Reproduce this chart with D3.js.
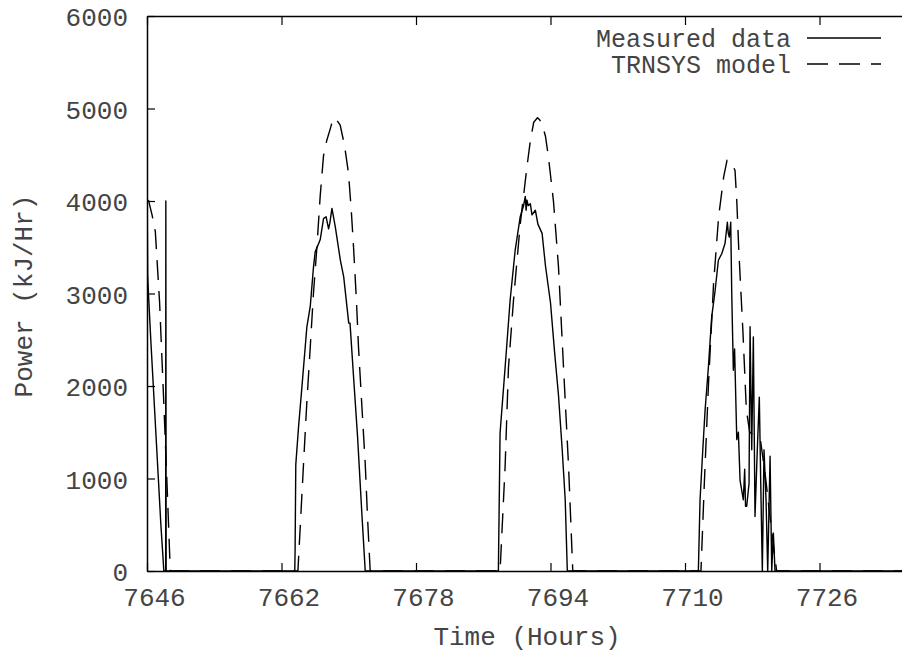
<!DOCTYPE html>
<html lang="en">
<head>
    <meta charset="utf-8">
    <title>Measured data vs TRNSYS model</title>
    <script type="text/javascript" src="https://d3js.org/d3.v7.min.js"></script>
    <style type="text/css">
        body { margin: 0; background: #fff; }
        svg { display: block; }
    </style>
</head>
<body>
<script type="text/javascript">

// tick values
var xTicks = [7646, 7662, 7678, 7694, 7710, 7726];
var yTicks = [0, 1000, 2000, 3000, 4000, 5000, 6000];

// Measured data (hours, kJ/Hr)
var measuredHours = [
    7646.00, 7646.03, 7646.08, 7646.20, 7646.45, 7646.75, 7647.05, 7647.35, 7647.65, 7647.90, 7648.00,
    7648.22, 7648.24, 7648.28,
    7663.58, 7663.62, 7663.70, 7664.03, 7664.43, 7665.02, 7665.42, 7665.81, 7666.01, 7666.60, 7667.00,
    7667.30, 7667.60, 7667.75, 7668.00, 7668.40, 7669.00, 7669.40, 7670.00, 7670.15, 7670.60, 7671.05,
    7671.56, 7671.96,
    7687.80, 7688.00, 7688.60, 7689.20, 7689.80, 7690.40, 7690.80, 7691.00, 7691.10, 7691.20, 7691.35,
    7691.60, 7691.80, 7692.20, 7692.50, 7693.00, 7693.40, 7694.00, 7694.50, 7694.95, 7695.40, 7695.75,
    7696.00,
    7711.59, 7711.79, 7712.11, 7712.39, 7712.78, 7713.18, 7713.58, 7713.97, 7714.20, 7714.37, 7714.76,
    7715.04, 7715.15, 7715.27, 7715.44, 7715.56, 7715.75, 7715.90, 7716.16, 7716.35, 7716.55, 7716.94,
    7717.10, 7717.20, 7717.34, 7717.62, 7717.74, 7717.94, 7718.13, 7718.33, 7718.60, 7718.84, 7719.01,
    7719.20, 7719.40, 7719.64, 7719.84, 7720.12, 7720.32, 7720.51, 7720.71,
    7742.00
];
var measuredPower = [
    4600, 3900, 3200, 2950, 2500, 2000, 1500, 1000, 500, 150, 0,
    0, 4000, 0,
    0, 250, 1150, 1560, 1990, 2640, 2860, 3290, 3450, 3580, 3810,
    3830, 3700, 3760, 3920, 3720, 3360, 3180, 2680, 2680, 2060, 1450,
    620, 0,
    0, 1490, 2200, 2930, 3470, 3830, 3950, 4050, 3900, 4010, 3950,
    3970, 3850, 3900, 3750, 3650, 3300, 2900, 2350, 1900, 1300, 770,
    0,
    0, 770, 1300, 1740, 2200, 2750, 3030, 3360, 3400, 3430, 3540,
    3770, 3650, 3610, 3770, 3000, 2170, 2400, 1420, 1500, 980, 770,
    1100, 700, 700, 950, 2640, 1310, 2530, 590, 1310, 1880, 950,
    0, 1310, 770, 0, 1240, 0, 410, 0,
    0
];

// TRNSYS model (hours, kJ/Hr)
var modelHours = [
    7646.00, 7646.19, 7646.60, 7646.99, 7647.50, 7647.97, 7648.40, 7648.77,
    7663.95, 7664.30, 7664.62, 7665.00, 7665.42, 7665.80, 7666.21, 7666.60, 7667.00, 7667.40,
    7667.80, 7668.10, 7668.31, 7668.60, 7668.98, 7669.50, 7669.97, 7670.30, 7670.57, 7670.90,
    7671.16, 7671.55, 7671.96, 7672.25, 7672.55,
    7688.00, 7688.60, 7689.00, 7689.60, 7690.40, 7691.20, 7691.60, 7692.00, 7692.45, 7692.70,
    7693.00, 7693.40, 7693.75, 7694.35, 7694.95, 7695.55, 7696.15, 7696.65,
    7711.90, 7712.30, 7712.80, 7713.40, 7714.00, 7714.60, 7715.00, 7715.40, 7715.60, 7715.95,
    7716.16, 7716.40, 7716.90, 7717.30, 7717.70, 7718.50, 7719.00, 7719.60, 7720.10, 7720.90,
    7742.00
];
var modelPower = [
    4000, 4005, 3850, 3670, 2900, 1880, 900, 0,
    0, 600, 1160, 1800, 2420, 3000, 3500, 4050, 4490, 4660,
    4780, 4880, 4900, 4870, 4820, 4600, 4300, 3900, 3500, 2950,
    2420, 1800, 1160, 550, 0,
    0, 1130, 2200, 2930, 3750, 4370, 4650, 4850, 4900, 4880,
    4830, 4700, 4480, 4000, 3290, 2200, 1130, 0,
    0, 950, 2030, 3110, 3830, 4260, 4440, 4430, 4400, 4330,
    4000, 3470, 2570, 1740, 1500, 1450, 1400, 1000, 590, 0,
    0
];

var width = 902, height = 652;
var margin = {left: 147, top: 16, bottom: 81};
var plotW = 807;
var plotH = height - margin.top - margin.bottom;

var fontFamily = "'Liberation Mono', 'Courier New', monospace";
var textColor = "#444";

var svg = d3.select("body")
    .append("svg")
    .attr("width", width)
    .attr("height", height);

var x = d3.scaleLinear()
    .domain([7646, 7742])
    .range([margin.left, margin.left + plotW]);

var y = d3.scaleLinear()
    .domain([0, 6000])
    .range([margin.top + plotH, margin.top]);

svg.append("clipPath")
    .attr("id", "plotclip")
    .append("rect")
    .attr("x", margin.left)
    .attr("y", margin.top - 2)
    .attr("width", plotW)
    .attr("height", plotH + 4);

// axes
var bottomAxis = svg.append("g")
    .attr("transform", "translate(0," + (margin.top + plotH) + ")")
    .call(d3.axisBottom(x).tickValues(xTicks).tickSize(-8).tickSizeOuter(0).tickPadding(17)
        .tickFormat(d3.format("d")));

var topAxis = svg.append("g")
    .attr("transform", "translate(0," + margin.top + ")")
    .call(d3.axisTop(x).tickValues(xTicks).tickSize(-9).tickSizeOuter(0).tickFormat(""));

var leftAxis = svg.append("g")
    .attr("transform", "translate(" + margin.left + ",0)")
    .call(d3.axisLeft(y).tickValues(yTicks).tickSize(-8).tickSizeOuter(0).tickPadding(19)
        .tickFormat(d3.format("d")));

[bottomAxis, topAxis, leftAxis].forEach(function(g) {
    g.attr("font-family", fontFamily).attr("font-size", 26);
    g.select(".domain").attr("stroke", "#000").attr("stroke-width", 1.5);
    g.selectAll(".tick line").attr("stroke", "#000").attr("stroke-width", 1.2);
    g.selectAll(".tick text").attr("fill", textColor);
});

bottomAxis.selectAll(".tick text").attr("dx", 7);
leftAxis.selectAll(".tick text").attr("dy", "0.38em");

// lines
var measured = measuredHours.map(function(h, i) { return [h, measuredPower[i]]; });
var model = modelHours.map(function(h, i) { return [h, modelPower[i]]; });

var line = d3.line()
    .x(function(d) { return x(d[0]); })
    .y(function(d) { return y(d[1]); });

var plot = svg.append("g").attr("clip-path", "url(#plotclip)");

plot.append("path")
    .datum(measured)
    .attr("d", line)
    .attr("fill", "none")
    .attr("stroke", "#000")
    .attr("stroke-width", 1.4)
    .attr("stroke-linejoin", "round");

plot.append("path")
    .datum(model)
    .attr("d", line)
    .attr("fill", "none")
    .attr("stroke", "#000")
    .attr("stroke-width", 1.4)
    .attr("stroke-dasharray", "20,11");

// legend
var legendItems = [
    {name: "Measured data", dash: null, y: 38},
    {name: "TRNSYS model", dash: "21,11", y: 64}
];

var legend = svg.append("g");

legend.selectAll("text")
    .data(legendItems)
    .enter()
    .append("text")
    .attr("x", 791)
    .attr("y", function(d) { return d.y + 9; })
    .attr("text-anchor", "end")
    .attr("font-family", fontFamily)
    .attr("font-size", 25)
    .attr("fill", textColor)
    .text(function(d) { return d.name; });

legend.selectAll("line")
    .data(legendItems)
    .enter()
    .append("line")
    .attr("x1", 807)
    .attr("x2", 881)
    .attr("y1", function(d) { return d.y; })
    .attr("y2", function(d) { return d.y; })
    .attr("stroke", "#000")
    .attr("stroke-width", 1.4)
    .attr("stroke-dasharray", function(d) { return d.dash; });

// axis titles
svg.append("text")
    .attr("x", 527)
    .attr("y", 645)
    .attr("text-anchor", "middle")
    .attr("font-family", fontFamily)
    .attr("font-size", 26)
    .attr("fill", textColor)
    .text("Time (Hours)");

svg.append("text")
    .attr("transform", "translate(32,296) rotate(-90)")
    .attr("text-anchor", "middle")
    .attr("font-family", fontFamily)
    .attr("font-size", 26)
    .attr("fill", textColor)
    .text("Power (kJ/Hr)");

</script>
</body>
</html>
